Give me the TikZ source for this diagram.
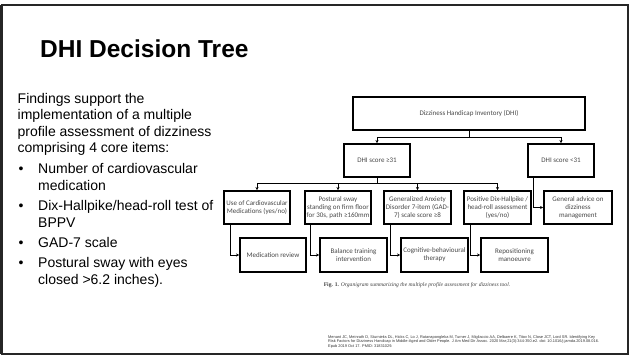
\documentclass[tikz,border=0pt]{standalone}
\usepackage{fontspec}
\setmainfont{Liberation Sans}
\newfontfamily\carl{Carlito}
\newfontfamily\capserif{Liberation Serif}
\usetikzlibrary{arrows.meta,calc}
\begin{document}
\begin{tikzpicture}[x=1pt,y=-1pt,
  box/.style={draw=black,line width=1.6pt,inner sep=0pt,align=center,
    minimum height=33pt,text=black!72,font=\carl\fontsize{7}{8}\selectfont},
  conn/.style={draw=black,line width=0.9pt},
  arr/.style={conn,-{Stealth[length=3.2pt,width=3.2pt]}},
  bodytext/.style={anchor=base west,inner sep=0pt,font=\fontsize{14}{16}\selectfont},
  bul/.style={anchor=base,inner sep=0pt,font=\fontsize{14}{16}\selectfont}]
\useasboundingbox (0,0) rectangle (629,356);
% slide frame
\draw[line width=1.4pt,black!85] (1.5,5) rectangle (628,354);
\draw[line width=2.8pt,black!85] (1.4,5) -- (1.4,354);
% title
\node[anchor=base west,inner sep=0pt,font=\bfseries\fontsize{24.5}{28}\selectfont] (title) at (40,57) {DHI Decision Tree};
% left text
\node[bodytext] (p1) at (17.5,103) {Findings support the};
\node[bodytext] (p2) at (17.5,119.5) {implementation of a multiple};
\node[bodytext] (p3) at (17.5,136) {profile assessment of dizziness};
\node[bodytext] (p4) at (17.5,152.5) {comprising 4 core items:};
\node[bul] (d1) at (21,173) {•};
\node[bodytext] (t1a) at (38,173) {Number of cardiovascular};
\node[bodytext] (t1b) at (38,190) {medication};
\node[bul] (d2) at (21,210) {•};
\node[bodytext] (t2a) at (38,210) {Dix-Hallpike/head-roll test of};
\node[bodytext] (t2b) at (38,227) {BPPV};
\node[bul] (d3) at (21,247) {•};
\node[bodytext] (t3) at (38,247) {GAD-7 scale};
\node[bul] (d4) at (21,267) {•};
\node[bodytext] (t4a) at (38,267) {Postural sway with eyes};
\node[bodytext] (t4b) at (38,284) {closed >6.2 inches).};
% diagram boxes
\node[box,minimum width=232pt] (dhi) at (469,113.5) {Dizziness Handicap Inventory (DHI)};
\node[box,minimum width=66pt] (s1) at (377,160.5) {DHI score ≥31};
\node[box,minimum width=66pt] (s2) at (561,160.5) {DHI score <31};
\node[box,minimum width=66pt] (b1) at (257,207.5) {Use of Cardiovascular\\Medications (yes/no)};
\node[box,minimum width=66pt] (b2) at (338,207.5) {Postural sway\\standing on firm floor\\for 30s, path ≥160mm};
\node[box,minimum width=67pt] (b3) at (417.5,207.5) {Generalized Anxiety\\Disorder 7-item (GAD-\\7) scale score ≥8};
\node[box,minimum width=67pt] (b4) at (497.5,207.5) {Positive Dix-Hallpike /\\head-roll assessment\\(yes/no)};
\node[box,minimum width=68pt] (g) at (578,207.5) {General advice on\\dizziness\\management};
\node[box,minimum width=66pt,minimum height=34pt] (r1) at (273,255) {Medication review};
\node[box,minimum width=67pt,minimum height=34pt] (r2) at (353.5,255) {Balance training\\intervention};
\node[box,minimum width=67pt,minimum height=34pt] (r3) at (434.5,255) {Cognitive-behavioural\\therapy};
\node[box,minimum width=67pt,minimum height=34pt] (r4) at (514.5,255) {Repositioning\\manoeuvre};
% connectors
\draw[conn] (dhi.south) -- ++(0,7) coordinate (j1);
\draw[arr] (j1) -| (s1.north);
\draw[arr] (j1) -| (s2.north);
\draw[conn] (s1.south) -- ++(0,6) coordinate (j2);
\draw[arr] (j2) -| (b1.north);
\draw[arr] (j2) -| (b2.north);
\draw[arr] (j2) -| (b3.north);
\draw[arr] (j2) -| (b4.north);
\draw[arr] ($(s2.south west)+(6,0)$) |- (g.west);
\draw[arr] ($(b1.south west)+(7,0)$) |- (r1.west);
\draw[arr] ($(b2.south west)+(6,0)$) |- (r2.west);
\draw[arr] ($(b3.south west)+(7,0)$) |- (r3.west);
\draw[arr] ($(b4.south west)+(7,0)$) |- (r4.west);
% caption
\node[inner sep=0pt,text=black!75,font=\capserif\fontsize{5.6}{6.5}\selectfont] (cap) at (417,285) {\textbf{Fig. 1.} \textit{Organigram summarizing the multiple profile assessment for dizziness tool.}};
% reference
\begin{scope}
\clip (0,0) rectangle (626.5,356);
\node[anchor=north west,inner sep=0pt,align=left,text=black!80,font=\fontsize{3.9}{4.5}\selectfont] (ref) at (328,335.3) {Menant JC, Meinrath D, Sturnieks DL, Hicks C, Lo J, Ratanapongleka M, Turner J, Migliaccio AA, Delbaere K, Titov N, Close JCT, Lord SR. Identifying Key\\Risk Factors for Dizziness Handicap in Middle-Aged and Older People. J Am Med Dir Assoc. 2020 Mar;21(3):344-350.e2. doi: 10.1016/j.jamda.2019.08.016.\\Epub 2019 Oct 17. PMID: 31831029.};
\end{scope}
\end{tikzpicture}
\end{document}
